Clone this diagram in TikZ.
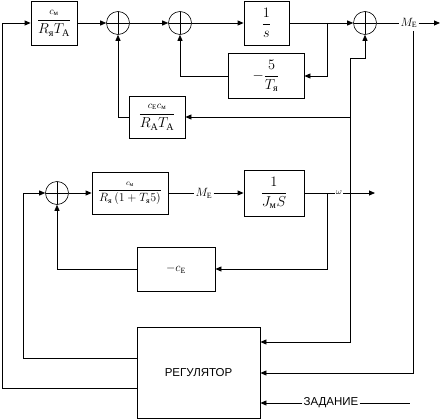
\documentclass[tikz,border=0pt]{standalone}
\usepackage{amsmath}
\usepackage{fontspec}
\setmainfont{Liberation Serif}
\newfontfamily\rusans{Liberation Sans}
\usetikzlibrary{arrows.meta}
\begin{document}
\begin{tikzpicture}[x=1pt,y=-1pt,
  blk/.style={draw, line width=0.8pt, inner sep=0pt, font=\large},
  sumc/.style={draw, circle, minimum size=23pt, inner sep=0pt, line width=0.6pt,
    path picture={\draw[line width=0.6pt] (path picture bounding box.north) -- (path picture bounding box.south)
      (path picture bounding box.west) -- (path picture bounding box.east);}},
  wire/.style={line width=0.8pt},
  arr/.style={wire, -{Triangle[length=6pt,width=5pt]}},
  lbl/.style={inner sep=1pt},
  rus/.style={inner sep=1pt, font=\rusans\fontsize{11.5}{13}\selectfont}
]
\useasboundingbox (0,0) rectangle (442,420);
% upper chain
\node[blk, minimum width=46pt, minimum height=44pt, font=\Large] (b1) at (54,23) {$\dfrac{\scriptstyle c_{\text{м}}}{R_{\text{я}}T_{\text{A}}}$};
\node[sumc] (s1) at (118,23) {};
\node[sumc] (s2) at (180,23) {};
\node[blk, minimum width=45pt, minimum height=44pt, font=\Large] (b2) at (266.5,23) {$\dfrac{1}{s}$};
\node[sumc] (s3) at (365,23) {};
\node[lbl, font=\large] (me) at (409,23) {$M_{\text{E}}$};
\node[blk, minimum width=76pt, minimum height=45pt, font=\Large] (b3) at (266,76) {$-\dfrac{5}{T_{\text{я}}}$};
\node[blk, minimum width=56pt, minimum height=42pt, font=\Large] (b4) at (157,117) {$\dfrac{\scriptstyle c_{\text{E}}c_{\text{м}}}{R_{\text{A}}T_{\text{A}}}$};
% lower chain
\node[sumc] (s4) at (57,193) {};
\node[blk, minimum width=76pt, minimum height=42pt] (b5) at (130,193) {$\dfrac{\scriptstyle c_{\text{м}}}{R_{\text{я}}\,(1+T_{\text{я}}5)}$};
\node[lbl, font=\large] (me2) at (204,193) {$M_{\text{E}}$};
\node[blk, minimum width=60pt, minimum height=46pt, font=\Large] (b6) at (274,193) {$\dfrac{1}{J_{\text{м}}S}$};
\node[lbl, font=\small] (om) at (339,193) {$\omega$};
\node[blk, minimum width=78pt, minimum height=44pt] (b7) at (176,269) {$-c_{\text{E}}$};
% regulator
\node[draw, line width=0.8pt, minimum width=123pt, minimum height=91pt, rus] (rg) at (198.5,372.5) {РЕГУЛЯТОР};
\node[rus] (zd) at (331,403) {ЗАДАНИЕ};
\coordinate (p1) at (327,23);
\coordinate (p2) at (327,193);
\coordinate (q0) at (350,58);
\coordinate (q1) at (350,117);
\coordinate (m0) at (413,31);
\coordinate (e1) at (440,23);
\coordinate (e2) at (375,193);
\coordinate (z1) at (410,403);
% upper connections
\draw[arr] (b1.east) -- (s1.west);
\draw[arr] (s1.east) -- (s2.west);
\draw[arr] (s2.east) -- (b2.west);
\draw[arr] (b2.east) -- (s3.west);
\draw[wire] (s3.east) -- (me.west);
\draw[arr] (me.east) -- (e1);
\draw[arr] (p1) |- (b3.east);
\draw[arr] (b3.west) -| (s2.south);
\draw[arr] (b4.west) -| (s1.south);
\draw[arr] (q1) -- (b4.east);
\draw[arr] (q0) -| (s3.south);
\draw[arr] (q0) |- (rg.east |- 0,342);
\draw[arr] (m0) |- (rg.east |- 0,373);
% lower connections
\draw[arr] (s4.east) -- (b5.west);
\draw[wire] (b5.east) -- (me2.west);
\draw[arr] (me2.east) -- (b6.west);
\draw[wire] (b6.east) -- (om.west);
\draw[arr] (om.east) -- (e2);
\draw[arr] (p2) |- (b7.east);
\draw[arr] (b7.west) -| (s4.south);
% regulator connections
\draw[arr] (rg.west |- 0,358) -- (23,358) |- (s4.west);
\draw[arr] (rg.west |- 0,388) -- (2,388) |- (b1.west);
\draw[arr] (zd.west) -- (rg.east |- zd.west);
\draw[wire] (zd.east) -- (z1);
\end{tikzpicture}
\end{document}
